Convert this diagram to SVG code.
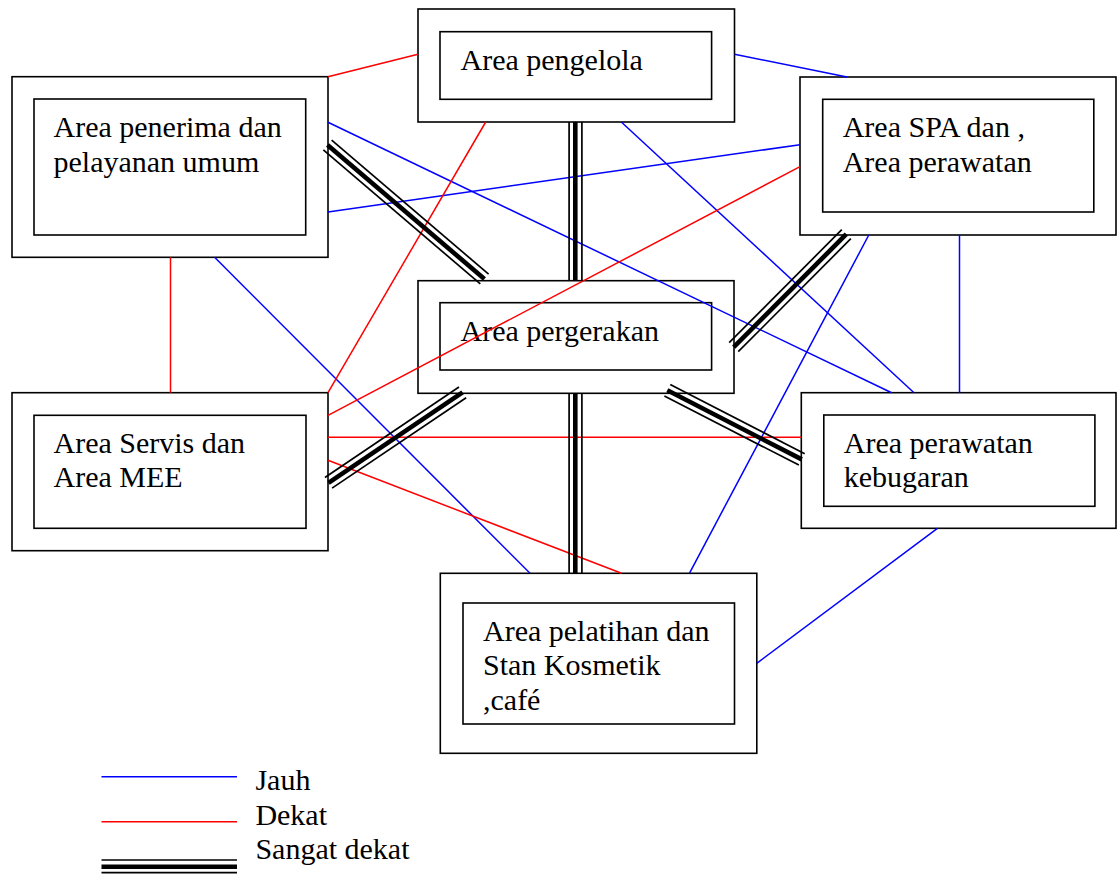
<svg xmlns="http://www.w3.org/2000/svg" width="1117" height="886" viewBox="0 0 1117 886">
<style>
.outer{fill:#fff;stroke:#000;stroke-width:1.6}
.inner{fill:#fff;stroke:#000;stroke-width:1.6}
.lbl{font-family:"Liberation Serif","Times New Roman",serif;font-size:30px;fill:#000}
.far{stroke:#0000ff;stroke-width:1.5;fill:none}
.near{stroke:#ff0000;stroke-width:1.5;fill:none}
.vn line{stroke:#000}
.vn .t{stroke-width:1.7}
.vn .k{stroke-width:4.6}
</style>
<rect width="1117" height="886" fill="#fff"/>

<g id="node-pengelola">
<rect class="outer" x="418" y="9" width="316.5" height="113"/>
<rect class="inner" x="440" y="31.7" width="271.6" height="67.6"/>
<text class="lbl" x="460.5" y="70">Area pengelola</text>
</g>
<g id="node-penerima">
<rect class="outer" x="12" y="76.7" width="316" height="180.6"/>
<rect class="inner" x="34" y="99" width="271.7" height="136"/>
<text class="lbl" x="53.5" y="137">Area penerima dan</text>
<text class="lbl" x="53.5" y="172">pelayanan umum</text>
</g>
<g id="node-spa">
<rect class="outer" x="800" y="77" width="316" height="158"/>
<rect class="inner" x="822.7" y="99.3" width="271.1" height="112.7"/>
<text class="lbl" x="842.7" y="137">Area SPA dan ,</text>
<text class="lbl" x="842.7" y="172">Area perawatan</text>
</g>
<g id="node-pergerakan">
<rect class="outer" x="418" y="280.7" width="316" height="112.6"/>
<rect class="inner" x="440" y="302.7" width="271.6" height="67.3"/>
<text class="lbl" x="460.5" y="341">Area pergerakan</text>
</g>
<g id="node-servis">
<rect class="outer" x="12" y="392.7" width="316" height="158"/>
<rect class="inner" x="34" y="415.3" width="272" height="113"/>
<text class="lbl" x="53.5" y="452.7">Area Servis dan</text>
<text class="lbl" x="53.5" y="486.7">Area MEE</text>
</g>
<g id="node-kebugaran">
<rect class="outer" x="801.3" y="392.7" width="314.7" height="135.6"/>
<rect class="inner" x="823.8" y="415" width="271.1" height="91.3"/>
<text class="lbl" x="843.8" y="452.7">Area perawatan</text>
<text class="lbl" x="843.8" y="486.7">kebugaran</text>
</g>
<g id="node-pelatihan">
<rect class="outer" x="440.3" y="573.3" width="316.5" height="180"/>
<rect class="inner" x="463" y="603" width="271.5" height="121"/>
<text class="lbl" x="483" y="641">Area pelatihan dan</text>
<text class="lbl" x="483" y="675.3">Stan Kosmetik</text>
<text class="lbl" x="483" y="710">,café</text>
</g>

<g id="connectors">
<line class="far" x1="734.5" y1="54.3" x2="847" y2="77"/>
<line class="far" x1="621.3" y1="122" x2="914" y2="392.7"/>
<line class="far" x1="328" y1="122.3" x2="891.6" y2="392.7"/>
<line class="far" x1="328" y1="212" x2="800" y2="144.7"/>
<line class="far" x1="214.6" y1="257.3" x2="530" y2="573.3"/>
<line class="far" x1="868.8" y1="235" x2="689.4" y2="573.3"/>
<line class="far" x1="959.5" y1="235" x2="959.5" y2="392.7"/>
<line class="far" x1="937.4" y1="528.3" x2="756.8" y2="663.3"/>
<line class="near" x1="328" y1="76.7" x2="418" y2="54.3"/>
<line class="near" x1="485.7" y1="122" x2="328" y2="392.7"/>
<line class="near" x1="170.5" y1="257.3" x2="170.5" y2="392.7"/>
<line class="near" x1="328" y1="415.3" x2="800" y2="166.7"/>
<line class="near" x1="328" y1="437.3" x2="801.3" y2="437.3"/>
<line class="near" x1="328" y1="460.3" x2="621.5" y2="573.3"/>
<g class="vn" transform="translate(575.3,122) rotate(90)">
<line class="t" x1="0" y1="-6.6" x2="158.7" y2="-6.6"/><line class="k" x1="0" y1="0" x2="158.7" y2="0"/><line class="t" x1="0" y1="6.2" x2="158.7" y2="6.2"/>
</g>
<g class="vn" transform="translate(575.3,393.3) rotate(90)">
<line class="t" x1="0" y1="-6.6" x2="180" y2="-6.6"/><line class="k" x1="0" y1="0" x2="180" y2="0"/><line class="t" x1="0" y1="6.2" x2="180" y2="6.2"/>
</g>
<g class="vn" transform="translate(327.5,145) rotate(40.5)">
<line class="t" x1="0" y1="-6.4" x2="206.4" y2="-6.4"/><line class="k" x1="0" y1="0" x2="206.4" y2="0"/><line class="t" x1="0" y1="6.4" x2="206.4" y2="6.4"/>
</g>
<g class="vn" transform="translate(846.3,234.2) rotate(134.9)">
<line class="t" x1="0" y1="-6.4" x2="159.5" y2="-6.4"/><line class="k" x1="0" y1="0" x2="159.5" y2="0"/><line class="t" x1="0" y1="6.4" x2="159.5" y2="6.4"/>
</g>
<g class="vn" transform="translate(328.5,482.8) rotate(-34)">
<line class="t" x1="0" y1="-6.4" x2="161.7" y2="-6.4"/><line class="k" x1="0" y1="0" x2="161.7" y2="0"/><line class="t" x1="0" y1="6.4" x2="161.7" y2="6.4"/>
</g>
<g class="vn" transform="translate(667.3,390.3) rotate(27.2)">
<line class="t" x1="0" y1="-6.4" x2="151.2" y2="-6.4"/><line class="k" x1="0" y1="0" x2="151.2" y2="0"/><line class="t" x1="0" y1="6.4" x2="151.2" y2="6.4"/>
</g>
</g>

<g id="legend">
<line class="far" x1="101.5" y1="776.7" x2="237" y2="776.7"/>
<line class="near" x1="101.5" y1="821.7" x2="237" y2="821.7"/>
<g class="vn">
<line class="t" x1="101.5" y1="860" x2="237" y2="860" stroke-width="2"/>
<line class="k" x1="101.5" y1="866.7" x2="237" y2="866.7"/>
<line class="t" x1="101.5" y1="872.7" x2="237" y2="872.7" stroke-width="2"/>
</g>
<text class="lbl" x="255.4" y="790">Jauh</text>
<text class="lbl" x="255.4" y="825">Dekat</text>
<text class="lbl" x="255.4" y="859.3">Sangat dekat</text>
</g>
</svg>
